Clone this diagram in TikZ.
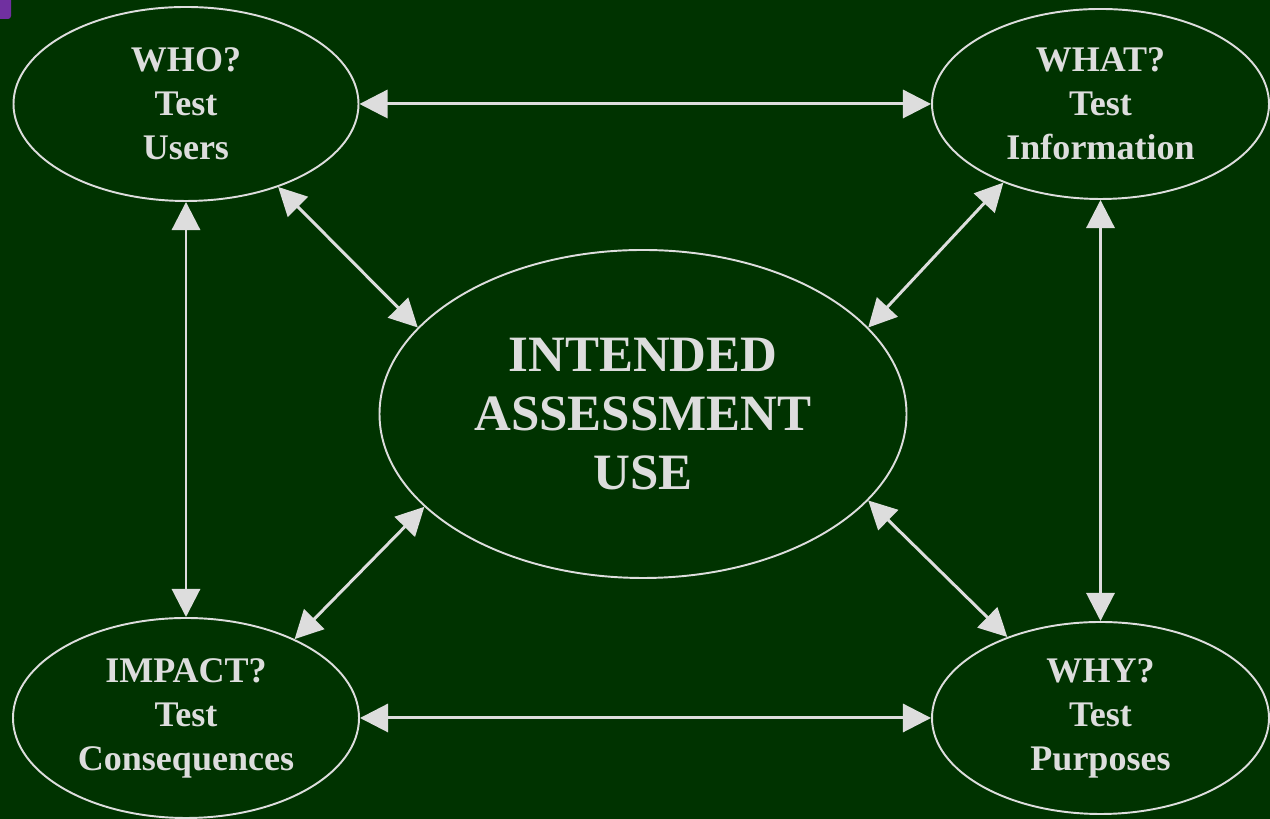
\documentclass[tikz,border=0pt]{standalone}
\usepackage{fontspec}
\setmainfont{Liberation Serif}
\usetikzlibrary{shapes.geometric,arrows.meta}
\definecolor{board}{RGB}{0,51,0}
\definecolor{chalk}{RGB}{221,221,221}
\definecolor{tabpurple}{RGB}{112,48,160}

\begin{document}
\begin{tikzpicture}[bubble/.style={ellipse, draw=chalk, line width=1.1pt, text=chalk, inner sep=0pt, align=center, font=\bfseries\fontsize{20.5}{25}\selectfont}, link/.style={{Triangle[length=16pt,width=16pt]}-{Triangle[length=16pt,width=16pt]}, draw=chalk, line width=1.7pt}]
	\useasboundingbox (0,0) rectangle (25.4,16.38);
	\fill[board] (0,0) rectangle (25.4,16.38);
	\fill[tabpurple] (0,16.0) -- (0.16,16.0) arc (270:360:0.06) -- (0.22,16.38) -- (0,16.38) -- cycle;
	\node[bubble, minimum width=6.9cm, minimum height=3.88cm] (who) at (3.72,14.30) {WHO?\\Test\\Users};
	\node[bubble, minimum width=6.74cm, minimum height=3.8cm] (what) at (22.01,14.30) {WHAT?\\Test\\Information};
	\node[bubble, minimum width=6.92cm, minimum height=4.0cm] (impact) at (3.72,2.02) {IMPACT?\\Test\\Consequences};
	\node[bubble, minimum width=6.74cm, minimum height=3.84cm] (why) at (22.01,2.02) {WHY?\\Test\\Purposes};
	\node[bubble, minimum width=10.54cm, minimum height=6.56cm, font=\bfseries\fontsize{29}{33.5}\selectfont] (use) at (12.86,8.10) {INTENDED\\ASSESSMENT\\USE};
	\draw[link] (who) -- (what);
	\draw[link] (impact) -- (why);
	\draw[link] (who) -- (impact);
	\draw[link] (what) -- (why);
	\draw[link] (who.-42) -- (use.159);
	\draw[link] (what.-141.6) -- (use.21.5);
	\draw[link] (impact.36) -- (use.-157.4);
	\draw[link] (why.139.3) -- (use.-21.2);
\end{tikzpicture}
\end{document}
